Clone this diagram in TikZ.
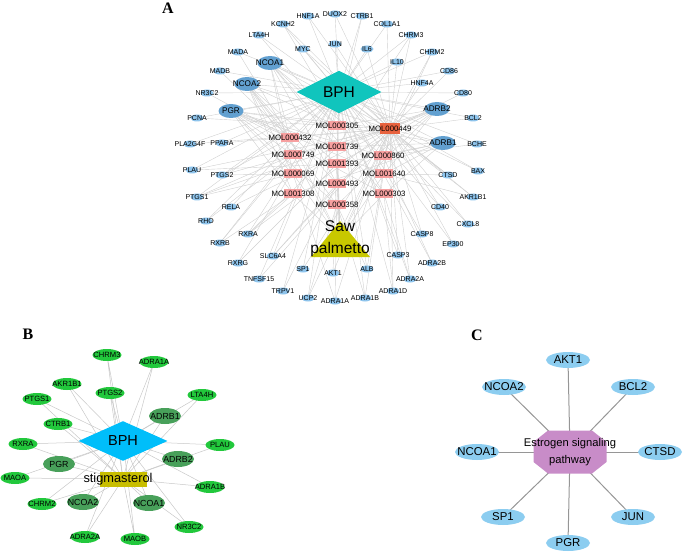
\documentclass[tikz,border=0pt]{standalone}
\usepackage{fontspec}
\setmainfont{Liberation Sans}
\newfontfamily\panelfont{Liberation Serif}
\usetikzlibrary{shapes.geometric}

\definecolor{tgtblue}{RGB}{142,196,236}
\definecolor{tgtdark}{RGB}{98,160,208}
\definecolor{molpink}{RGB}{247,160,160}
\definecolor{molred}{RGB}{232,98,62}
\definecolor{bphteal}{RGB}{16,197,189}
\definecolor{sawolive}{RGB}{200,200,0}
\definecolor{bphsky}{RGB}{0,190,250}
\definecolor{stigyellow}{RGB}{200,190,0}
\definecolor{leafgreen}{RGB}{34,200,60}
\definecolor{mossgreen}{RGB}{72,160,90}
\definecolor{pathpink}{RGB}{200,140,200}
\definecolor{genesky}{RGB}{140,205,240}

\pgfdeclarelayer{bg}
\pgfsetlayers{bg,main}

\tikzset{
  tsmall/.style={ellipse, fill=tgtblue, minimum width=13pt, minimum height=7pt, inner sep=0pt,
    label={[font=\fontsize{7}{8}\selectfont, inner sep=0pt]center:#1}},
  tbig/.style={ellipse, fill=tgtdark, minimum width=25pt, minimum height=14pt, inner sep=0pt,
    label={[font=\fontsize{8.2}{10}\selectfont, inner sep=0pt]center:#1}},
  molbox/.style={rectangle, fill=molpink, minimum width=18pt, minimum height=9pt, inner sep=0pt,
    label={[font=\fontsize{7.8}{9}\selectfont, inner sep=0pt]center:#1}},
  molhot/.style={molbox=#1, fill=molred, minimum width=20pt, minimum height=11pt},
  gsmall/.style={ellipse, fill=leafgreen, minimum width=29pt, minimum height=12pt, inner sep=0pt,
    label={[font=\fontsize{7.6}{9}\selectfont, inner sep=0pt]center:#1}},
  gbig/.style={ellipse, fill=mossgreen, minimum width=32pt, minimum height=16pt, inner sep=0pt,
    label={[font=\fontsize{8.8}{10}\selectfont, inner sep=0pt]center:#1}},
  gene/.style={ellipse, fill=genesky, minimum width=44pt, minimum height=16pt, inner sep=0pt,
    label={[font=\fontsize{11.4}{13}\selectfont, inner sep=0pt]center:#1}},
  panel/.style={font=\panelfont\bfseries\fontsize{16}{18}\selectfont},
  linkA/.style={draw={rgb,255:red,208;green,208;blue,208}, line width=0.4pt},
  linkB/.style={draw={rgb,255:red,200;green,200;blue,200}, line width=0.5pt},
  linkC/.style={draw={rgb,255:red,150;green,150;blue,150}, line width=1pt}
}

\begin{document}
\begin{tikzpicture}[x=1pt, y=-1pt]
\useasboundingbox (0,0) rectangle (685,556);

% Panel letters
\node[panel] (labA) at (168,8) {A};
\node[panel] (labB) at (28,334) {B};
\node[panel] (labC) at (477,335) {C};

% ---- A: hubs
\node[diamond, fill=bphteal, minimum width=85pt, minimum height=42pt, inner sep=0pt,
  font=\fontsize{15.5}{18}\selectfont] (bph) at (339,92) {BPH};
\fill[sawolive] (311,257) -- (340,221) -- (370,257) -- cycle;
\node[align=center, font=\fontsize{15.5}{22}\selectfont, inner sep=0pt] (saw) at (340,239) {Saw\\palmetto};

% ---- A: compounds
\node[molbox=MOL000305] (MOL000305) at (337,126) {};
\node[molbox=MOL000432] (MOL000432) at (290,138) {};
\node[molbox=MOL001739] (MOL001739) at (337,147) {};
\node[molbox=MOL000749] (MOL000749) at (293,155) {};
\node[molbox=MOL000860] (MOL000860) at (383,156) {};
\node[molbox=MOL001393] (MOL001393) at (337,164) {};
\node[molbox=MOL000069] (MOL000069) at (293,174) {};
\node[molbox=MOL001640] (MOL001640) at (384,174) {};
\node[molbox=MOL000493] (MOL000493) at (337,184) {};
\node[molbox=MOL001308] (MOL001308) at (293,194) {};
\node[molbox=MOL000303] (MOL000303) at (384,194) {};
\node[molbox=MOL000358] (MOL000358) at (337,205) {};
\node[molhot=MOL000449] (MOL000449) at (390,129) {};

% ---- A: targets
\node[tsmall=HNF1A] (HNF1A) at (308,16) {};
\node[tsmall=DUOX2] (DUOX2) at (335,14) {};
\node[tsmall=CTRB1] (CTRB1) at (362,16) {};
\node[tsmall=COL1A1] (COL1A1) at (387,24) {};
\node[tsmall=KCNH2] (KCNH2) at (283,24) {};
\node[tsmall=LTA4H] (LTA4H) at (259,35) {};
\node[tsmall=MYC] (MYC) at (303,49) {};
\node[tsmall=JUN] (JUN) at (335,44) {};
\node[tsmall=IL6] (IL6) at (367,49) {};
\node[tsmall=CHRM3] (CHRM3) at (411,35) {};
\node[tsmall=CHRM2] (CHRM2) at (432,52) {};
\node[tsmall=IL10] (IL10) at (397,62) {};
\node[tsmall=CD86] (CD86) at (449,71) {};
\node[tsmall=HNF4A] (HNF4A) at (422,83) {};
\node[tsmall=CD80] (CD80) at (463,93) {};
\node[tsmall=BCL2] (BCL2) at (473,118) {};
\node[tsmall=MADA] (MADA) at (238,52) {};
\node[tsmall=MADB] (MADB) at (220,71) {};
\node[tsmall=NR3C2] (NR3C2) at (207,93) {};
\node[tsmall=PCNA] (PCNA) at (197,118) {};
\node[tsmall=PLA2G4F] (PLA2G4F) at (190,144) {};
\node[tsmall=PPARA] (PPARA) at (222,143) {};
\node[tsmall=PLAU] (PLAU) at (192,170) {};
\node[tsmall=PTGS2] (PTGS2) at (222,175) {};
\node[tsmall=PTGS1] (PTGS1) at (197,197) {};
\node[tsmall=RELA] (RELA) at (231,207) {};
\node[tsmall=RHO] (RHO) at (206,221) {};
\node[tsmall=RXRA] (RXRA) at (248,234) {};
\node[tsmall=RXRB] (RXRB) at (220,243) {};
\node[tsmall=SLC6A4] (SLC6A4) at (273,256) {};
\node[tsmall=RXRG] (RXRG) at (238,263) {};
\node[tsmall=TNFSF15] (TNFSF15) at (259,279) {};
\node[tsmall=TRPV1] (TRPV1) at (283,291) {};
\node[tsmall=SP1] (SP1) at (303,269) {};
\node[tsmall=AKT1] (AKT1) at (333,273) {};
\node[tsmall=UCP2] (UCP2) at (308,298) {};
\node[tsmall=ADRA1A] (ADRA1A) at (335,301) {};
\node[tsmall=ALB] (ALB) at (367,269) {};
\node[tsmall=ADRA1B] (ADRA1B) at (365,298) {};
\node[tsmall=ADRA1D] (ADRA1D) at (393,291) {};
\node[tsmall=ADRA2A] (ADRA2A) at (410,279) {};
\node[tsmall=ADRA2B] (ADRA2B) at (432,263) {};
\node[tsmall=CASP3] (CASP3) at (398,255) {};
\node[tsmall=CASP8] (CASP8) at (422,234) {};
\node[tsmall=EP300] (EP300) at (453,244) {};
\node[tsmall=CXCL8] (CXCL8) at (468,224) {};
\node[tsmall=CD40] (CD40) at (440,207) {};
\node[tsmall=AKR1B1] (AKR1B1) at (473,197) {};
\node[tsmall=CTSD] (CTSD) at (448,175) {};
\node[tsmall=BAX] (BAX) at (478,171) {};
\node[tsmall=BCHE] (BCHE) at (477,144) {};
\node[tbig=NCOA1] (NCOA1) at (270,63) {};
\node[tbig=NCOA2] (NCOA2) at (247,84) {};
\node[tbig=PGR] (PGR) at (231,111) {};
\node[tbig=ADRB2] (ADRB2) at (437,109) {};
\node[tbig=ADRB1] (ADRB1) at (443,143) {};

% ---- B
\node[diamond, fill=bphsky, minimum width=89pt, minimum height=34pt, inner sep=0pt,
  font=\fontsize{14.5}{17}\selectfont] (b-bph) at (123,441) {BPH};
\node[rectangle, fill=stigyellow, minimum width=47pt, minimum height=15pt, inner sep=0pt,
  label={[font=\fontsize{12.8}{15}\selectfont, inner sep=0pt, xshift=-5pt]center:stigmasterol}] (b-stig) at (123,479) {};
\node[gsmall=CHRM3] (b-CHRM3) at (107,355) {};
\node[gsmall=ADRA1A] (b-ADRA1A) at (154,362) {};
\node[gsmall=AKR1B1] (b-AKR1B1) at (67,384) {};
\node[gsmall=PTGS2] (b-PTGS2) at (110,393) {};
\node[gsmall=LTA4H] (b-LTA4H) at (202,395) {};
\node[gsmall=PTGS1] (b-PTGS1) at (37,399) {};
\node[gsmall=CTRB1] (b-CTRB1) at (58,424) {};
\node[gsmall=RXRA] (b-RXRA) at (23,444) {};
\node[gsmall=PLAU] (b-PLAU) at (220,445) {};
\node[gsmall=MAOA] (b-MAOA) at (15,478) {};
\node[gsmall=ADRA1B] (b-ADRA1B) at (210,487) {};
\node[gsmall=CHRM2] (b-CHRM2) at (42,504) {};
\node[gsmall=NR3C2] (b-NR3C2) at (189,527) {};
\node[gsmall=ADRA2A] (b-ADRA2A) at (85,537) {};
\node[gsmall=MAOB] (b-MAOB) at (135,539) {};
\node[gbig=ADRB1] (b-ADRB1) at (165,416) {};
\node[gbig=PGR] (b-PGR) at (59,464) {};
\node[gbig=ADRB2] (b-ADRB2) at (178,459) {};
\node[gbig=NCOA2] (b-NCOA2) at (83,502) {};
\node[gbig=NCOA1] (b-NCOA1) at (149,503) {};

% ---- C
\fill[pathpink] (533.5,442) -- (548,430.5) -- (592,430.5) -- (606.5,442)
  -- (606.5,462) -- (592,473.5) -- (548,473.5) -- (533.5,462) -- cycle;
\node[align=center, font=\fontsize{11.2}{16.5}\selectfont, inner sep=0pt] (c-path) at (570,452) {Estrogen signaling\\pathway};
\node[gene=AKT1] (c-AKT1) at (568,360) {};
\node[gene=NCOA2] (c-NCOA2) at (504,387) {};
\node[gene=BCL2] (c-BCL2) at (633,387) {};
\node[gene=NCOA1] (c-NCOA1) at (477,452) {};
\node[gene=CTSD] (c-CTSD) at (660,452) {};
\node[gene=SP1] (c-SP1) at (503,517) {};
\node[gene=JUN] (c-JUN) at (633,517) {};
\node[gene=PGR] (c-PGR) at (568,543) {};

% ---- connectors (behind)
\begin{pgfonlayer}{bg}
\foreach \t in {HNF1A,DUOX2,CTRB1,COL1A1,KCNH2,LTA4H,MYC,JUN,IL6,CHRM3,CHRM2,IL10,CD86,HNF4A,CD80,BCL2,
  MADA,MADB,NR3C2,PCNA,PLA2G4F,PPARA,PLAU,PTGS2,PTGS1,RELA,RHO,RXRA,RXRB,SLC6A4,RXRG,TNFSF15,TRPV1,
  SP1,AKT1,UCP2,ADRA1A,ALB,ADRA1B,ADRA1D,ADRA2A,ADRA2B,CASP3,CASP8,EP300,CXCL8,CD40,AKR1B1,CTSD,BAX,BCHE,
  NCOA1,NCOA2,PGR,ADRB2,ADRB1}
  \draw[linkA] (bph.center) -- (\t.center);
\foreach \m in {MOL000305,MOL000432,MOL001739,MOL000749,MOL000860,MOL001393,MOL000069,MOL001640,
  MOL000493,MOL001308,MOL000303,MOL000358,MOL000449}
  \draw[linkA] (saw.center) -- (\m.center);
\foreach \m/\tl in {
  MOL000449/{HNF1A,DUOX2,COL1A1,KCNH2,MYC,JUN,IL6,CHRM3,CHRM2,IL10,CD86,HNF4A,CD80,ADRB2,BCL2,NCOA1,NCOA2,PGR,
    PCNA,PLA2G4F,PPARA,PLAU,PTGS2,PTGS1,RELA,RXRA,SLC6A4,TNFSF15,SP1,AKT1,UCP2,ALB,ADRA1A,ADRA1B,ADRA1D,
    ADRA2A,CASP3,ADRB1,BAX,CTSD,AKR1B1,CD40,CXCL8,CASP8,EP300},
  MOL000305/{PGR,NCOA1,NCOA2,ADRB1,ADRB2,CTRB1,LTA4H},
  MOL000432/{PGR,NCOA1,NCOA2,MADA,MADB,NR3C2,PTGS2},
  MOL001739/{PGR,NCOA1,ADRB1,ADRB2,CHRM3,RXRA},
  MOL000749/{PGR,NCOA2,ADRB2,PTGS1,RXRB,RHO},
  MOL000860/{PGR,NCOA1,ADRB1,BCHE,CHRM2,ADRA2B},
  MOL001393/{NCOA2,ADRB1,ADRB2,RXRG,PLAU},
  MOL000069/{PGR,NCOA1,NCOA2,PTGS1,PTGS2,ADRA1A},
  MOL001640/{PGR,ADRB1,ADRB2,CTSD,AKR1B1},
  MOL000493/{NCOA1,NCOA2,ADRB2,TRPV1,SLC6A4},
  MOL001308/{PGR,NCOA2,ADRB1,RXRA,RXRB},
  MOL000303/{PGR,NCOA1,ADRB1,ADRA2A,ADRA1D,KCNH2},
  MOL000358/{PGR,NCOA2,ADRB2,ALB,ADRA1B,UCP2}}
  \foreach \t in \tl \draw[linkA] (\m.center) -- (\t.center);
% B: every target to both hubs
\foreach \t in {CHRM3,ADRA1A,AKR1B1,PTGS2,LTA4H,PTGS1,CTRB1,RXRA,PLAU,MAOA,ADRA1B,CHRM2,NR3C2,ADRA2A,MAOB,
  ADRB1,PGR,ADRB2,NCOA2,NCOA1}
  \draw[linkB] (b-bph.center) -- (b-\t.center) -- (b-stig.center);
% C: star
\foreach \t in {AKT1,NCOA2,BCL2,NCOA1,CTSD,SP1,JUN,PGR}
  \draw[linkC] (c-path.center) -- (c-\t.center);
\end{pgfonlayer}
\end{tikzpicture}
\end{document}
